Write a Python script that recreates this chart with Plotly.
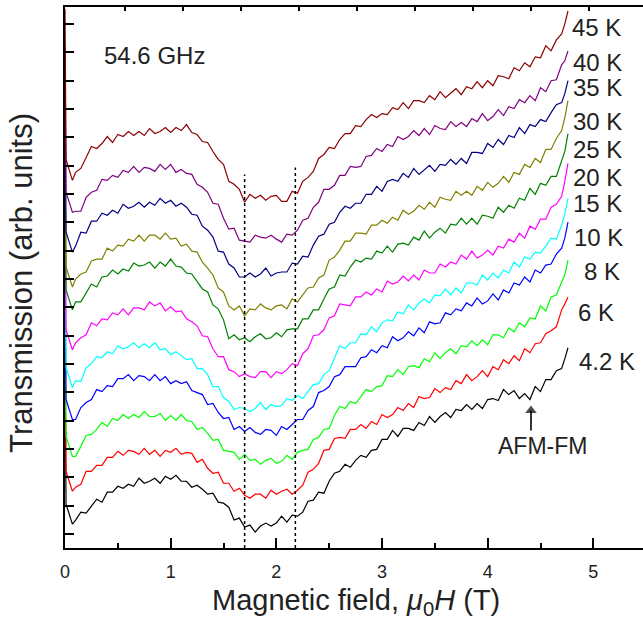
import plotly.graph_objects as go

# Magnetic field (T)
field = [0, 0.01, 0.07,
         0.10, 0.15, 0.20, 0.25, 0.30, 0.35, 0.40, 0.45, 0.50, 0.55,
         0.60, 0.65, 0.70, 0.75, 0.80, 0.85, 0.90, 0.95, 1.00, 1.05,
         1.10, 1.15, 1.20, 1.25, 1.30, 1.35, 1.40, 1.45, 1.50, 1.55,
         1.60, 1.65, 1.70, 1.75, 1.80, 1.85, 1.90, 1.95, 2.00, 2.05,
         2.10, 2.15, 2.20, 2.25, 2.30, 2.35, 2.40, 2.45, 2.50, 2.55,
         2.60, 2.65, 2.70, 2.75, 2.80, 2.85, 2.90, 2.95, 3.00, 3.05,
         3.10, 3.15, 3.20, 3.25, 3.30, 3.35, 3.40, 3.45, 3.50, 3.55,
         3.60, 3.65, 3.70, 3.75, 3.80, 3.85, 3.90, 3.95, 4.00, 4.05,
         4.10, 4.15, 4.20, 4.25, 4.30, 4.35, 4.40, 4.45, 4.50, 4.55,
         4.60, 4.65, 4.70,
         4.73, 4.76]

# Transmission (arb. units), curves offset vertically
t45 = [54.1, 39.0, 36.9,
       37.7, 38.1, 39.2, 40.3, 40.1, 40.6, 41.3, 40.7, 41.5, 41.3,
       41.8, 41.4, 41.8, 41.4, 42.1, 41.6, 41.8, 42.2, 41.7, 42.2,
       41.9, 42.5, 41.7, 41.5, 40.8, 40.7, 39.8, 39.0, 38.5, 36.8,
       36.5, 36.0, 34.7, 35.5, 35.1, 35.4, 34.9, 35.3, 35.4, 34.8,
       34.8, 35.8, 35.6, 36.8, 37.2, 37.8, 39.1, 39.5, 40.2, 40.1,
       41.0, 41.6, 41.6, 42.4, 42.3, 43.0, 43.5, 43.2, 43.6, 43.5,
       44.2, 44.0, 44.7, 44.1, 44.9, 44.9, 44.7, 45.4, 45.0, 45.8,
       45.2, 45.7, 46.1, 45.5, 46.3, 46.1, 46.8, 46.2, 46.9, 46.4,
       47.4, 47.3, 47.1, 48.2, 47.9, 48.7, 48.3, 49.3, 49.2, 50.4,
       49.9, 51.0, 51.6,
       52.6, 53.9]
t40 = [50.4, 35.7, 33.7,
       33.8, 33.8, 35.2, 35.7, 35.9, 37.0, 36.9, 37.4, 37.2, 37.9,
       37.7, 38.3, 37.7, 38.2, 38.1, 37.8, 38.5, 38.0, 38.5, 37.7,
       38.0, 37.6, 37.5, 36.5, 36.2, 35.7, 34.6, 34.5, 33.1, 32.0,
       32.1, 30.9, 30.8, 30.7, 31.4, 31.2, 31.1, 31.4, 31.0, 30.7,
       31.5, 31.4, 31.9, 32.9, 33.1, 34.2, 34.7, 36.0, 36.0, 36.4,
       37.4, 37.4, 38.3, 38.2, 38.3, 39.3, 39.4, 40.1, 39.8, 40.5,
       40.3, 41.3, 41.0, 41.3, 41.9, 41.4, 42.1, 41.5, 42.4, 42.1,
       42.0, 42.8, 42.3, 42.7, 42.3, 43.1, 42.8, 43.6, 42.9, 43.3,
       44.0, 43.4, 44.3, 44.1, 45.0, 44.7, 45.4, 44.9, 46.2, 45.8,
       46.9, 47.0, 48.5,
       48.9, 49.9]
t35 = [45.7, 31.7, 29.7,
       30.3, 31.7, 31.6, 32.8, 32.8, 33.6, 33.4, 33.9, 33.6, 34.5,
       34.1, 34.3, 34.7, 34.2, 34.7, 34.4, 35.1, 34.6, 34.9, 34.3,
       34.6, 34.2, 33.5, 33.4, 32.3, 31.9, 31.2, 29.8, 29.7, 28.5,
       28.1, 27.2, 27.2, 27.6, 27.2, 27.5, 28.1, 27.3, 27.6, 27.7,
       27.7, 28.6, 28.5, 29.3, 29.2, 30.4, 31.3, 31.5, 32.5, 32.7,
       33.7, 34.3, 34.1, 34.6, 34.6, 35.5, 35.5, 36.3, 35.8, 36.8,
       37.0, 36.8, 37.6, 37.2, 38.1, 37.5, 38.0, 38.4, 37.8, 38.5,
       38.4, 39.0, 38.5, 39.1, 38.6, 39.7, 39.7, 39.6, 40.6, 40.2,
       41.0, 40.5, 41.4, 41.2, 42.2, 41.6, 42.5, 42.3, 43.0, 42.8,
       43.7, 44.5, 44.7,
       45.6, 46.9]
t30 = [42.2, 28.2, 26.2,
       27.0, 27.5, 27.7, 28.8, 29.0, 29.0, 30.1, 29.8, 30.4, 30.3,
       31.0, 30.8, 31.4, 30.8, 31.4, 31.4, 31.0, 31.6, 31.0, 31.1,
       30.3, 30.5, 29.8, 29.7, 28.7, 28.1, 27.4, 26.1, 25.7, 24.3,
       23.9, 24.3, 23.3, 24.0, 23.9, 24.5, 24.1, 23.9, 24.3, 24.4,
       24.0, 25.0, 24.7, 25.4, 26.1, 26.2, 27.1, 27.4, 28.9, 29.2,
       29.9, 30.8, 30.8, 31.6, 31.6, 31.5, 32.4, 32.4, 32.9, 32.6,
       33.2, 32.9, 33.9, 33.5, 33.8, 34.4, 34.0, 34.7, 34.2, 35.2,
       35.0, 34.9, 35.8, 35.4, 35.8, 35.4, 36.3, 35.9, 36.7, 36.2,
       36.6, 37.3, 36.7, 37.7, 37.5, 38.5, 38.2, 39.1, 38.7, 40.0,
       40.0, 41.1, 41.9,
       43.2, 44.9]
t25 = [39.9, 25.9, 23.9,
       24.7, 24.7, 25.6, 26.5, 26.2, 27.2, 27.3, 27.9, 27.5, 28.0,
       27.8, 28.6, 28.3, 28.4, 28.7, 28.1, 28.7, 28.3, 29.0, 28.3,
       28.2, 27.6, 27.5, 26.8, 26.0, 25.7, 24.4, 24.0, 22.9, 21.0,
       21.4, 20.9, 21.1, 20.7, 21.2, 21.5, 21.0, 21.1, 21.6, 21.2,
       21.9, 22.0, 22.0, 23.0, 23.0, 23.9, 23.9, 25.0, 26.0, 26.2,
       27.4, 27.3, 28.2, 28.9, 28.7, 29.1, 29.0, 29.8, 29.6, 30.3,
       29.7, 30.5, 30.6, 30.4, 31.2, 30.9, 31.8, 31.1, 31.7, 32.1,
       31.6, 32.5, 32.4, 33.1, 32.5, 33.1, 32.5, 33.4, 33.3, 33.1,
       34.2, 33.7, 34.4, 34.1, 35.1, 34.9, 36.1, 35.5, 36.6, 36.4,
       37.3, 37.3, 38.8,
       39.8, 41.6]
t20 = [35.9, 21.9, 19.9,
       20.6, 21.1, 21.4, 22.6, 22.3, 23.0, 22.9, 23.6, 23.4, 24.0,
       23.4, 24.1, 24.1, 23.9, 24.7, 24.3, 24.6, 23.8, 24.2, 23.7,
       23.8, 23.0, 22.7, 22.3, 21.3, 21.2, 20.0, 19.2, 19.2, 17.9,
       17.7, 17.2, 17.5, 17.2, 17.1, 17.7, 17.7, 17.1, 17.7, 17.5,
       17.9, 18.5, 18.3, 19.5, 20.0, 21.3, 21.4, 21.9, 23.1, 23.3,
       24.5, 24.4, 24.3, 25.2, 25.2, 25.7, 25.4, 26.0, 25.7, 26.8,
       26.5, 26.7, 27.3, 26.8, 27.4, 26.9, 27.9, 27.6, 27.6, 28.5,
       28.2, 28.7, 28.5, 29.4, 29.0, 29.8, 29.1, 29.4, 29.9, 29.4,
       30.3, 30.1, 31.0, 30.7, 31.6, 31.1, 32.3, 32.0, 33.0, 33.0,
       34.2, 34.5, 35.3,
       36.8, 38.6]
t15 = [32.1, 18.1, 16.1,
       16.8, 16.7, 18.1, 18.5, 19.2, 19.1, 19.7, 19.5, 20.3, 20.0,
       20.2, 20.6, 20.1, 20.5, 20.1, 20.6, 19.9, 20.0, 19.4, 19.7,
       19.3, 18.9, 19.0, 18.0, 18.0, 17.4, 16.2, 16.2, 15.1, 14.7,
       13.9, 14.1, 14.0, 13.7, 14.0, 14.6, 13.9, 14.4, 14.2, 14.3,
       15.0, 14.8, 15.3, 15.0, 15.7, 16.4, 16.5, 17.4, 17.8, 19.1,
       20.3, 20.0, 20.6, 20.6, 21.5, 21.4, 22.2, 21.7, 22.6, 22.9,
       22.8, 23.7, 23.5, 24.4, 23.9, 24.6, 25.0, 24.6, 25.4, 25.3,
       26.0, 25.4, 26.1, 25.6, 26.6, 26.6, 26.4, 27.4, 26.9, 27.6,
       27.1, 27.9, 27.6, 28.7, 28.2, 29.2, 29.0, 29.7, 29.6, 30.3,
       31.1, 31.0, 32.4,
       33.5, 35.1]
t10 = [28.9, 14.9, 12.9,
       12.9, 14.1, 14.6, 14.9, 15.9, 15.7, 16.3, 16.2, 17.0, 17.0,
       17.4, 16.8, 17.3, 17.2, 16.8, 17.4, 16.8, 17.2, 16.5, 16.8,
       16.5, 16.7, 15.8, 15.6, 15.4, 14.4, 14.5, 13.6, 13.0, 13.1,
       11.9, 12.2, 11.7, 12.1, 11.6, 11.4, 11.9, 11.8, 11.3, 12.2,
       11.9, 12.4, 12.9, 12.9, 13.8, 14.2, 15.6, 15.8, 16.2, 17.2,
       17.4, 18.2, 18.2, 18.2, 19.1, 19.2, 19.9, 19.6, 20.3, 20.1,
       21.2, 20.8, 21.1, 21.7, 21.3, 22.1, 21.6, 22.7, 22.5, 22.6,
       23.6, 23.4, 24.0, 23.8, 24.6, 24.3, 25.1, 24.5, 24.8, 25.5,
       24.9, 25.9, 25.6, 26.6, 26.4, 27.2, 26.7, 27.9, 27.6, 28.4,
       28.5, 29.5, 30.1,
       31.1, 32.7]
t8 = [25.2, 11.2, 9.2,
      9.2, 10.2, 11.3, 11.4, 11.9, 12.6, 12.2, 13.0, 12.8, 13.4,
      13.0, 13.4, 13.1, 13.7, 13.2, 13.2, 13.5, 12.8, 13.3, 12.8,
      13.4, 12.8, 12.7, 11.9, 12.1, 11.5, 10.8, 10.9, 9.8, 9.7,
      9.6, 8.9, 9.4, 8.8, 8.9, 8.4, 8.8, 9.0, 8.5, 8.7,
      9.3, 8.9, 9.6, 9.8, 9.9, 10.9, 11.1, 11.9, 12.0, 13.3,
      14.2, 14.0, 14.7, 14.5, 15.2, 15.9, 15.7, 16.2, 16.3, 17.3,
      17.2, 17.9, 17.4, 18.2, 18.3, 18.1, 19.0, 18.7, 19.6, 19.0,
      19.6, 20.0, 19.5, 20.3, 20.2, 20.8, 20.3, 20.9, 20.4, 21.4,
      21.4, 21.1, 22.1, 21.7, 22.6, 22.2, 23.1, 23.0, 24.3, 23.8,
      25.2, 25.4, 26.7,
      27.4, 28.9]
t6 = [21.7, 7.7, 5.7,
      6.1, 6.4, 7.7, 7.7, 8.3, 8.3, 9.1, 9.1, 9.7, 9.3,
      9.8, 9.7, 9.4, 10.0, 9.4, 9.8, 9.2, 9.8, 9.6, 10.0,
      9.4, 9.6, 9.5, 8.6, 8.9, 8.0, 7.5, 7.6, 6.5, 6.5,
      5.7, 6.0, 5.3, 5.0, 5.4, 5.4, 5.0, 5.8, 5.4, 5.7,
      5.9, 5.4, 5.8, 6.3, 7.6, 7.9, 8.5, 9.8, 9.9, 11.0,
      11.1, 11.0, 11.9, 11.9, 12.4, 12.0, 12.7, 12.4, 13.4, 13.1,
      13.4, 14.1, 13.8, 14.5, 14.1, 15.2, 15.0, 15.1, 16.0, 15.6,
      16.1, 15.9, 16.8, 16.5, 17.4, 16.8, 17.2, 17.8, 17.2, 18.2,
      17.9, 18.9, 18.5, 19.3, 18.8, 20.0, 19.6, 20.5, 20.6, 21.5,
      21.8, 22.2, 23.9,
      24.5, 25.2]
t4_2 = [18.4, 4.4, 2.4,
        2.8, 3.6, 3.5, 4.2, 4.9, 4.6, 5.6, 5.6, 6.2, 6.0,
        6.4, 6.2, 7.0, 6.5, 6.7, 7.0, 6.5, 7.2, 6.9, 7.3,
        6.7, 6.7, 6.1, 6.3, 5.9, 5.4, 5.5, 4.6, 4.5, 4.1,
        2.8, 3.0, 2.1, 2.3, 1.6, 2.2, 2.5, 2.2, 2.5, 3.2,
        2.6, 3.3, 3.2, 3.6, 4.7, 4.8, 5.6, 5.5, 6.7, 7.5,
        7.7, 8.4, 8.1, 8.8, 9.3, 9.1, 9.8, 9.9, 10.9, 10.9,
        11.8, 11.2, 12.0, 12.0, 11.8, 12.6, 12.3, 13.2, 12.6, 13.2,
        13.6, 13.1, 13.9, 13.8, 14.4, 13.9, 14.5, 14.0, 14.9, 15.0,
        14.8, 15.9, 15.4, 15.8, 15.0, 15.5, 14.9, 16.2, 15.7, 16.9,
        16.9, 17.8, 18.0,
        19.0, 20.1]

temp_labels = ["4.2 K", "6 K", "8 K", "10 K", "15 K", "20 K", "25 K", "30 K", "35 K", "40 K", "45 K"]
series = [t4_2, t6, t8, t10, t15, t20, t25, t30, t35, t40, t45]
colors = ["#000000", "#FF0000", "#00FF00", "#0000FF", "#00FFFF", "#FF00FF",
          "#008000", "#808000", "#000080", "#800080", "#8B0000"]
label_x = [4.85, 4.84, 4.89, 4.80, 4.79, 4.79, 4.79, 4.79, 4.79, 4.79, 4.78]
label_y = [18.7, 23.6, 27.8, 31.2, 34.6, 37.2, 40.0, 42.8, 46.2, 48.7, 52.2]

# Dotted guide lines (field, T) and the height they reach
guide_x = [1.70, 2.18]
guide_top = [37.5, 38.2]

# AFM-FM arrow: field position, tail and head values
arrow_field = [4.41, 4.41]
arrow_val = [11.8, 13.8]

for s in series:
    assert len(s) == len(field), len(s)

FONT = "Liberation Sans, Arial, Helvetica, sans-serif"
TXT = "#222222"

fig = go.Figure()
for ys, c, name in zip(series, colors, temp_labels):
    fig.add_trace(go.Scatter(x=field, y=ys, mode="lines", name=name,
                             line=dict(color=c, width=1.2), showlegend=False))

# arrow as a line with a triangular head
fig.add_trace(go.Scatter(x=arrow_field, y=arrow_val, mode="lines+markers",
                         line=dict(color="black", width=1.6),
                         marker=dict(symbol="triangle-up", size=[0, 10], color="black",
                                     line=dict(width=0)),
                         showlegend=False, hoverinfo="skip"))

# invisible trace to activate the top axis
fig.add_trace(go.Scatter(x=[0], y=[0], xaxis="x2", mode="markers",
                         marker=dict(opacity=0), showlegend=False, hoverinfo="skip"))

for gx, gt in zip(guide_x, guide_top):
    fig.add_shape(type="line", x0=gx, x1=gx, y0=0, y1=gt, xref="x", yref="y",
                  line=dict(color="black", width=1.5, dash="dot"))

for txt, lx, ly in zip(temp_labels, label_x, label_y):
    fig.add_annotation(x=lx, y=ly, text=txt, showarrow=False, xanchor="left",
                       yanchor="middle", font=dict(family=FONT, size=24, color=TXT))

fig.add_annotation(x=0.35, y=49.4, text="54.6 GHz", showarrow=False, xanchor="left",
                   yanchor="middle", font=dict(family=FONT, size=24, color=TXT))

fig.add_annotation(x=4.52, y=10.2, text="AFM-FM", showarrow=False,
                   xanchor="center", yanchor="middle",
                   font=dict(family=FONT, size=23, color=TXT))

# axis titles
fig.add_annotation(xref="paper", yref="paper", x=0, y=0.49, xshift=-43,
                   text="Transmission (arb. units)", textangle=-90, showarrow=False,
                   xanchor="center", yanchor="middle",
                   font=dict(family=FONT, size=31, color=TXT))
fig.add_annotation(xref="paper", yref="paper", x=0.503, y=0, yshift=-54,
                   text="Magnetic field, <i>μ</i><sub>0</sub><i>H</i> (T)", showarrow=False,
                   xanchor="center", yanchor="middle",
                   font=dict(family=FONT, size=29, color=TXT))

fig.update_layout(
    width=643, height=623,
    margin=dict(l=65, r=0, t=7, b=75),
    paper_bgcolor="white", plot_bgcolor="white",
    showlegend=False,
    xaxis=dict(range=[0, 5.47], showgrid=False, zeroline=False,
               showline=True, linecolor="black", linewidth=2,
               ticks="inside", ticklen=10, tickwidth=2, tickcolor="black",
               tick0=0, dtick=1, ticklabelstandoff=6,
               tickfont=dict(family=FONT, size=18, color=TXT),
               minor=dict(ticks="inside", ticklen=5, tickwidth=2, dtick=0.5,
                          tickcolor="black", showgrid=False)),
    xaxis2=dict(overlaying="x", side="top", range=[-1.033, 8.933],
                showgrid=False, zeroline=False, showline=True, linecolor="black",
                linewidth=2, ticks="inside", ticklen=4, tickwidth=2, tickcolor="black",
                tickvals=[0, 1, 2, 3, 4, 5, 6, 7, 8], showticklabels=False),
    yaxis=dict(range=[0, 54.3], showgrid=False, zeroline=False,
               showline=True, linecolor="black", linewidth=2,
               ticks="inside", ticklen=9, tickwidth=2, tickcolor="black",
               tick0=1.4, dtick=2.845, showticklabels=False),
)

fig.write_html("out.html")
